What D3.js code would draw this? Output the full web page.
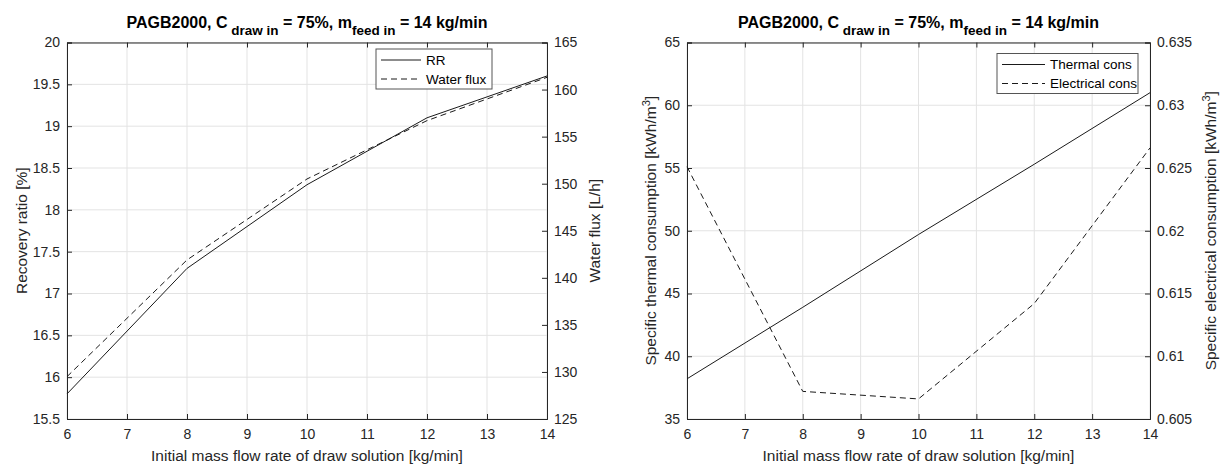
<!DOCTYPE html>
<html>
<head>
<meta charset="utf-8">
<script src="https://cdn.jsdelivr.net/npm/d3@7"></script>
<style>
  body { margin: 0; background: #fff; }
  svg { display: block; font-family: "Liberation Sans", Arial, sans-serif; }
</style>
</head>
<body>
<svg id="chart" width="1220" height="465"></svg>
<script>
// ---- data ----
const massFlow = [6, 8, 10, 12, 14];
const recoveryRatio = [15.8, 17.3, 18.3, 19.1, 19.6];
const waterFlux = [129.5, 141.9, 150.5, 156.7, 161.3];
const thermalCons = [38.2, 43.9, 49.7, 55.3, 61.0];
const electricalCons = [0.6251, 0.6072, 0.6066, 0.6142, 0.6266];

const xTicks = [6, 7, 8, 9, 10, 11, 12, 13, 14];
const rrTicks = [15.5, 16, 16.5, 17, 17.5, 18, 18.5, 19, 19.5, 20];
const fluxTicks = [125, 130, 135, 140, 145, 150, 155, 160, 165];
const thermalTicks = [35, 40, 45, 50, 55, 60, 65];
const elecTicks = [0.605, 0.61, 0.615, 0.62, 0.625, 0.63, 0.635];

const titleParts = ["PAGB2000, C", "draw in", " = 75%, m", "feed in", " = 14 kg/min"];
const xLabel = "Initial mass flow rate of draw solution [kg/min]";

const AX = "#262626";
const GRID = "#e3e3e3";
const svg = d3.select("#chart");

function panel(cfg) {
  const { left, right, top, bottom } = cfg;
  const g = svg.append("g");
  const x = d3.scaleLinear().domain([6, 14]).range([left, right]);
  const yL = d3.scaleLinear().domain(cfg.yLdom).range([bottom, top]);
  const yR = d3.scaleLinear().domain(cfg.yRdom).range([bottom, top]);

  // grid
  g.append("g").selectAll("line").data(xTicks).join("line")
    .attr("x1", d => x(d)).attr("x2", d => x(d)).attr("y1", top).attr("y2", bottom)
    .attr("stroke", GRID).attr("stroke-width", 1);
  g.append("g").selectAll("line").data(cfg.yLticks).join("line")
    .attr("x1", left).attr("x2", right).attr("y1", d => yL(d)).attr("y2", d => yL(d))
    .attr("stroke", GRID).attr("stroke-width", 1);

  // axes
  const fmt = d => String(+d.toFixed(4));
  const xb = g.append("g").attr("transform", `translate(0,${bottom})`)
    .call(d3.axisBottom(x).tickValues(xTicks).tickSize(-5).tickPadding(10).tickFormat(fmt));
  const xt = g.append("g").attr("transform", `translate(0,${top})`)
    .call(d3.axisTop(x).tickValues(xTicks).tickSize(-5).tickFormat(""));
  const yl = g.append("g").attr("transform", `translate(${left},0)`)
    .call(d3.axisLeft(yL).tickValues(cfg.yLticks).tickSize(-5).tickPadding(7).tickFormat(fmt));
  const yr = g.append("g").attr("transform", `translate(${right},0)`)
    .call(d3.axisRight(yR).tickValues(cfg.yRticks).tickSize(-5).tickPadding(7).tickFormat(fmt));
  [xb, xt, yl, yr].forEach(a => {
    a.select(".domain").attr("stroke", AX).attr("stroke-width", 1);
    a.selectAll(".tick line").attr("stroke", AX).attr("stroke-width", 1);
    a.selectAll(".tick text").attr("fill", AX).attr("font-size", 14)
      .attr("font-family", "Liberation Sans, Arial, sans-serif");
  });

  // lines
  const lineL = d3.line().x((d, i) => x(massFlow[i])).y(d => yL(d));
  const lineR = d3.line().x((d, i) => x(massFlow[i])).y(d => yR(d));
  g.append("path").datum(cfg.sL).attr("d", lineL).attr("fill", "none")
    .attr("stroke", "#1a1a1a").attr("stroke-width", 1);
  g.append("path").datum(cfg.sR).attr("d", lineR).attr("fill", "none")
    .attr("stroke", "#1a1a1a").attr("stroke-width", 1).attr("stroke-dasharray", "6,4");

  // title
  const cx = (left + right) / 2;
  const t = g.append("text").attr("x", cx).attr("y", 28).attr("text-anchor", "middle")
    .attr("font-weight", "bold").attr("font-size", 16).attr("fill", "#000");
  t.append("tspan").text(titleParts[0]);
  t.append("tspan").attr("dy", 7).attr("font-size", 13.5).text("\u00a0" + titleParts[1]);
  t.append("tspan").attr("dy", -7).text(titleParts[2]);
  t.append("tspan").attr("dy", 7).attr("font-size", 13.5).text(titleParts[3]);
  t.append("tspan").attr("dy", -7).text(titleParts[4]);

  // x label
  g.append("text").attr("x", cx).attr("y", 461).attr("text-anchor", "middle")
    .attr("font-size", 15.5).attr("fill", AX).text(xLabel);

  // y labels
  const cy = (top + bottom) / 2;
  function ylab(xp, parts) {
    const tt = g.append("text").attr("transform", `translate(${xp},${cy}) rotate(-90)`)
      .attr("text-anchor", "middle").attr("font-size", 15.5).attr("fill", AX);
    tt.append("tspan").text(parts[0]);
    if (parts.length > 1) {
      tt.append("tspan").attr("dy", -6).attr("font-size", 11).text(parts[1]);
      tt.append("tspan").attr("dy", 6).text(parts[2]);
    }
  }
  ylab(cfg.yLlabX, cfg.yLlab);
  ylab(cfg.yRlabX, cfg.yRlab);

  // legend
  const L = cfg.legend;
  const lg = g.append("g");
  lg.append("rect").attr("x", L.x).attr("y", L.y).attr("width", L.w).attr("height", L.h)
    .attr("fill", "#fff").attr("stroke", "#555").attr("stroke-width", 1);
  L.items.forEach((name, i) => {
    const yy = L.y + 11 + i * 19;
    lg.append("line").attr("x1", L.x + 5).attr("x2", L.x + 5 + L.lineW)
      .attr("y1", yy).attr("y2", yy).attr("stroke", "#1a1a1a").attr("stroke-width", 1)
      .attr("stroke-dasharray", i === 1 ? "6,4" : null);
    lg.append("text").attr("x", L.x + 10 + L.lineW).attr("y", yy).attr("dy", "0.35em")
      .attr("font-size", 13.5).attr("fill", "#000").text(name);
  });
}

panel({
  left: 67, right: 547, top: 42.5, bottom: 419,
  yLdom: [15.5, 20], yRdom: [125, 165],
  yLticks: rrTicks, yRticks: fluxTicks,
  sL: recoveryRatio, sR: waterFlux,
  yLlab: ["Recovery ratio [%]"], yLlabX: 27,
  yRlab: ["Water flux [L/h]"], yRlabX: 600,
  legend: { x: 376, y: 49, w: 116, h: 40, lineW: 40, items: ["RR", "Water flux"] }
});

panel({
  left: 687, right: 1150, top: 42.5, bottom: 419,
  yLdom: [35, 65], yRdom: [0.605, 0.635],
  yLticks: thermalTicks, yRticks: elecTicks,
  sL: thermalCons, sR: electricalCons,
  yLlab: ["Specific thermal consumption [kWh/m", "3", "]"], yLlabX: 656,
  yRlab: ["Specific electrical consumption [kWh/m", "3", "]"], yRlabX: 1216,
  legend: { x: 997, y: 53.5, w: 141, h: 40, lineW: 43, items: ["Thermal cons", "Electrical cons"] }
});
</script>
</body>
</html>
